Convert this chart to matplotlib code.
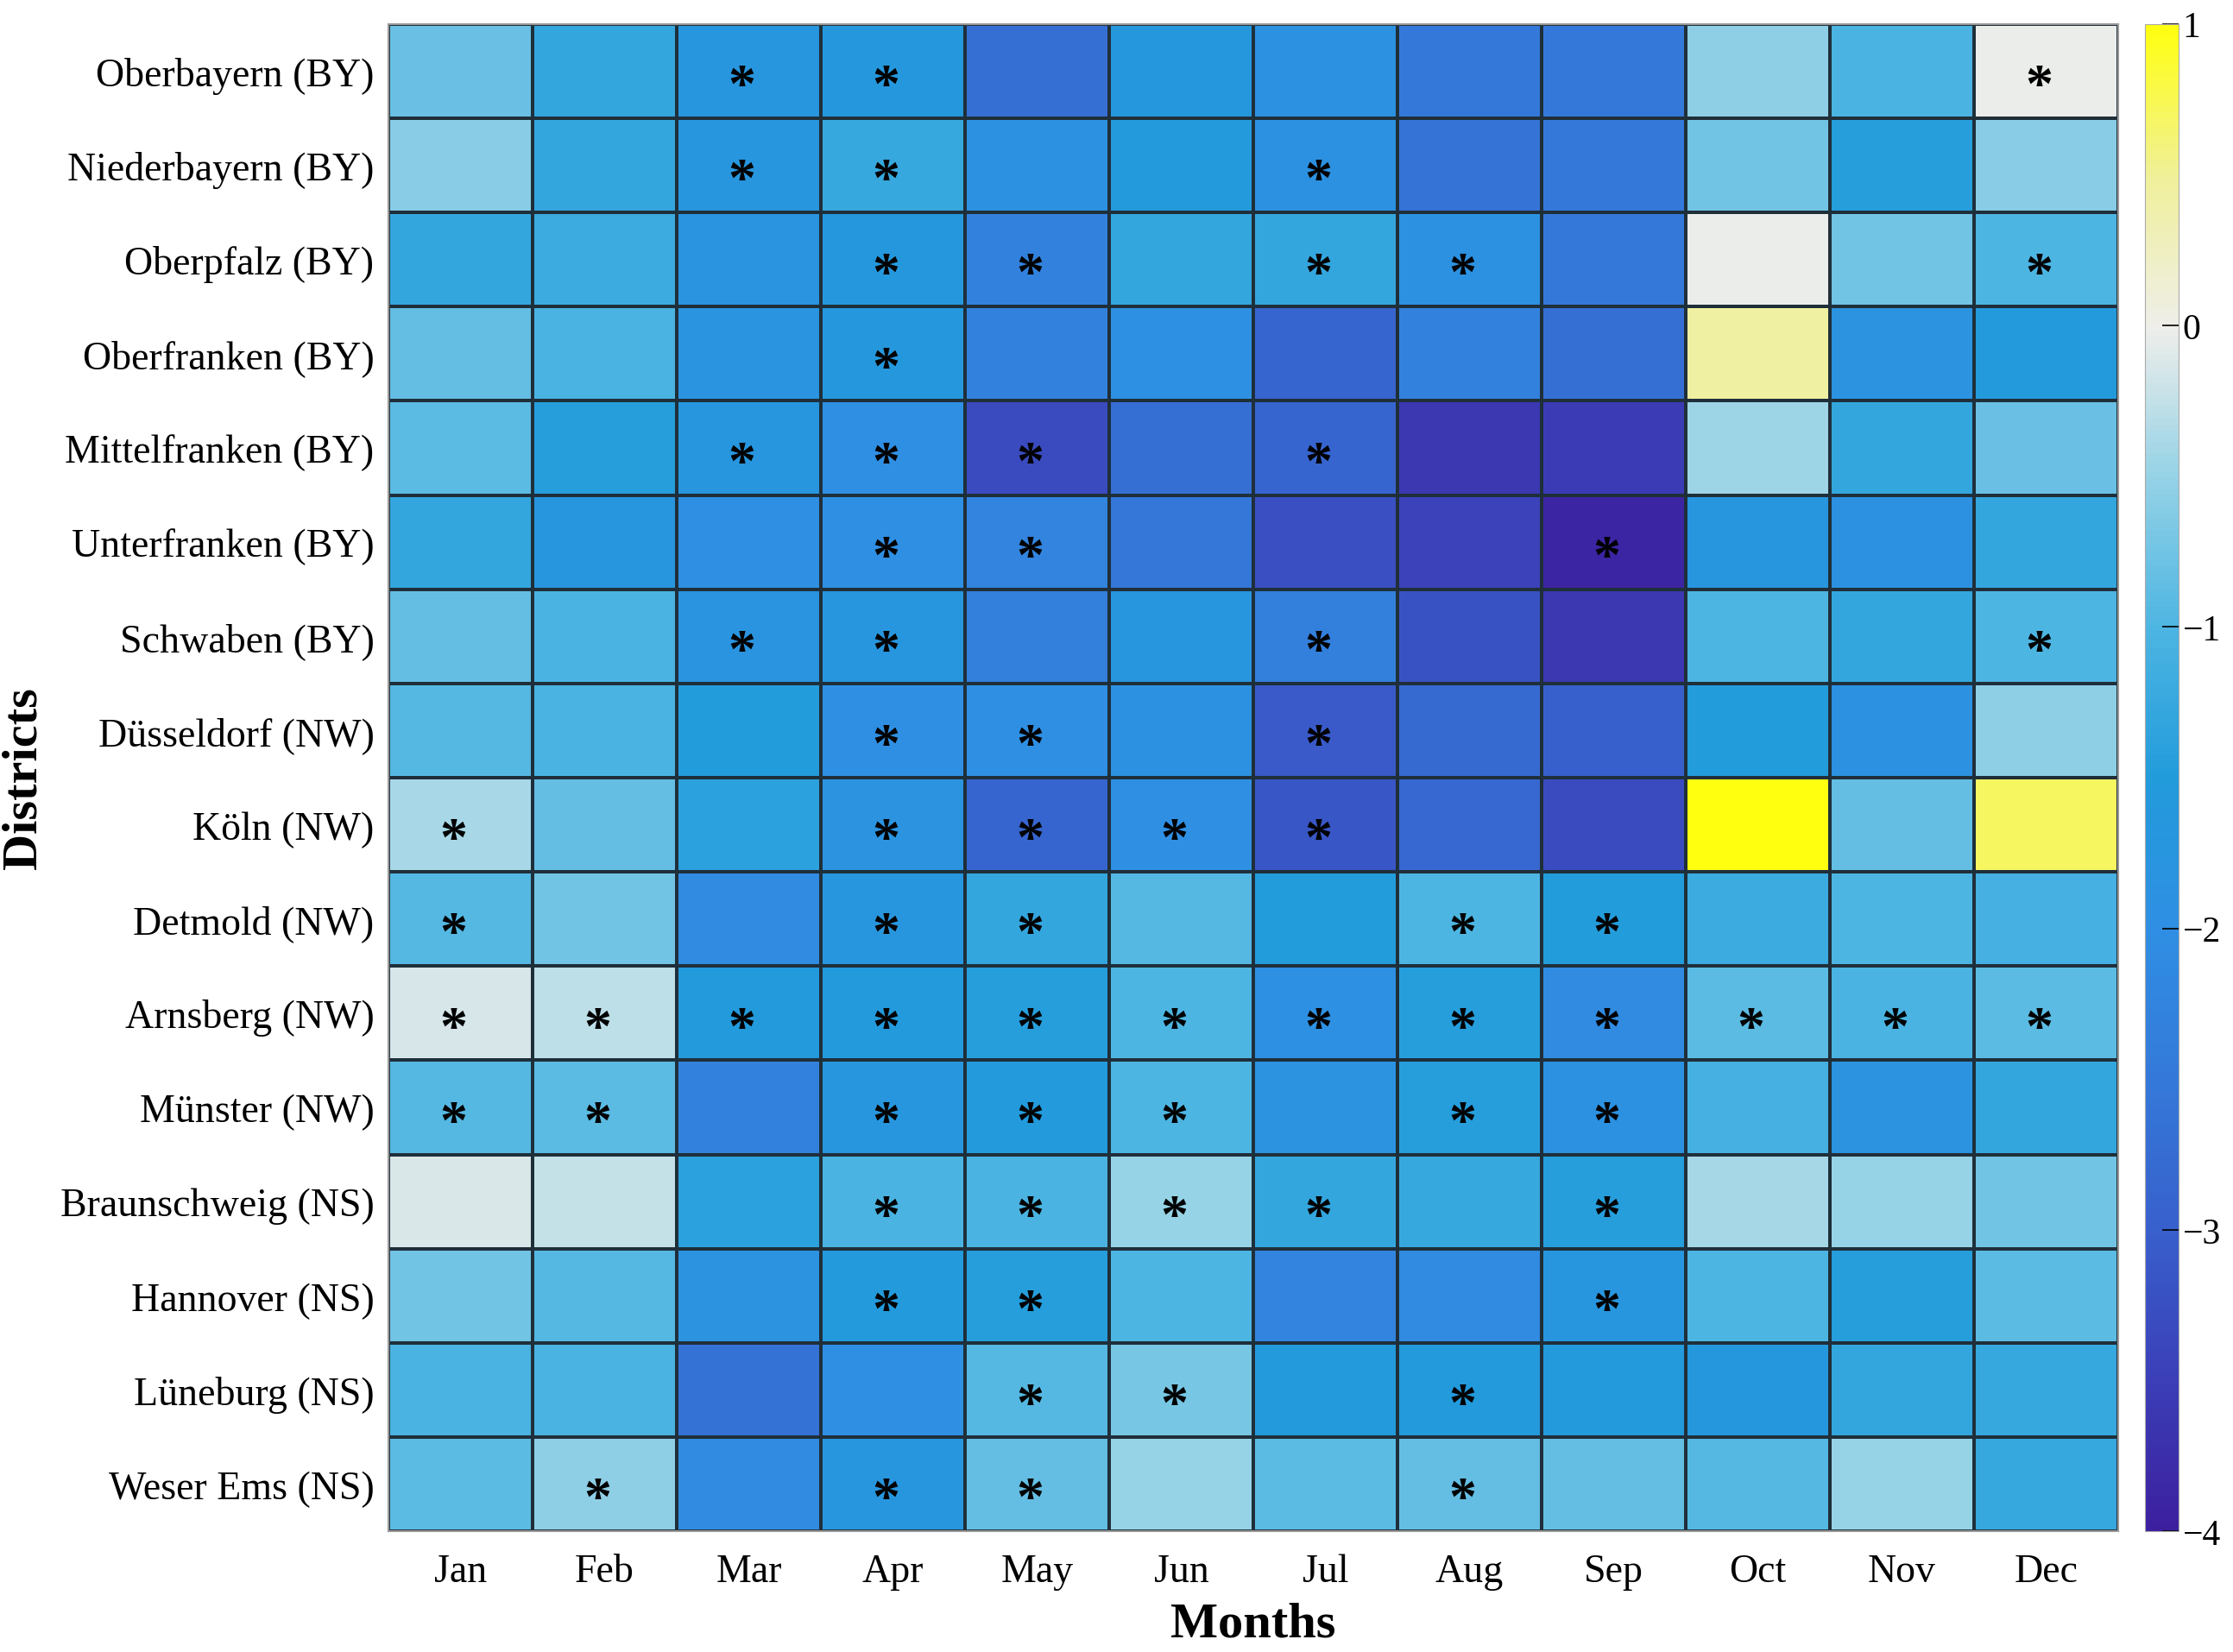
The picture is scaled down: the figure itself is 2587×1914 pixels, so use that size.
import numpy as np
import matplotlib.pyplot as plt
from matplotlib.colors import LinearSegmentedColormap

plt.rcParams['font.family'] = ['Liberation Serif', 'DejaVu Serif']
plt.rcParams['axes.unicode_minus'] = True

# 数据
districts = ['Oberbayern (BY)', 'Niederbayern (BY)', 'Oberpfalz (BY)', 'Oberfranken (BY)',
             'Mittelfranken (BY)', 'Unterfranken (BY)', 'Schwaben (BY)', 'Düsseldorf (NW)',
             'Köln (NW)', 'Detmold (NW)', 'Arnsberg (NW)', 'Münster (NW)',
             'Braunschweig (NS)', 'Hannover (NS)', 'Lüneburg (NS)', 'Weser Ems (NS)']
months = ['Jan', 'Feb', 'Mar', 'Apr', 'May', 'Jun', 'Jul', 'Aug', 'Sep', 'Oct', 'Nov', 'Dec']

values = np.array([
    [-0.80, -1.30, -1.70, -1.60, -2.70, -1.60, -1.90, -2.50, -2.50, -0.55, -1.05, -0.02],
    [-0.60, -1.30, -1.70, -1.25, -1.90, -1.55, -1.90, -2.60, -2.50, -0.75, -1.45, -0.60],
    [-1.30, -1.20, -1.80, -1.60, -2.30, -1.30, -1.30, -1.90, -2.50, -0.02, -0.75, -1.00],
    [-0.85, -1.05, -1.80, -1.60, -2.30, -1.95, -2.90, -2.30, -2.70, 0.45, -1.85, -1.55],
    [-0.90, -1.45, -1.70, -2.00, -3.30, -2.70, -2.90, -3.60, -3.55, -0.45, -1.30, -0.80],
    [-1.30, -1.70, -2.00, -2.00, -2.25, -2.55, -3.25, -3.45, -3.90, -1.75, -1.90, -1.30],
    [-0.85, -1.05, -1.80, -1.70, -2.35, -1.70, -2.35, -3.20, -3.60, -1.00, -1.30, -1.00],
    [-0.95, -1.05, -1.50, -2.00, -2.00, -1.90, -3.10, -2.80, -3.00, -1.50, -1.90, -0.55],
    [-0.40, -0.85, -1.40, -1.85, -2.90, -2.00, -3.15, -2.85, -3.30, 1.00, -0.85, 0.70],
    [-0.95, -0.75, -2.10, -1.70, -1.30, -0.95, -1.50, -1.00, -1.50, -1.20, -1.00, -1.10],
    [-0.15, -0.28, -1.55, -1.55, -1.45, -1.00, -1.95, -1.45, -2.10, -0.90, -1.05, -0.90],
    [-0.95, -0.90, -2.30, -1.70, -1.55, -1.00, -1.85, -1.45, -1.90, -1.10, -1.85, -1.30],
    [-0.12, -0.25, -1.40, -1.05, -1.05, -0.50, -1.30, -1.25, -1.45, -0.42, -0.50, -0.75],
    [-0.75, -0.95, -1.85, -1.55, -1.45, -1.00, -2.25, -2.10, -1.70, -1.00, -1.45, -0.90],
    [-1.05, -1.05, -2.65, -2.00, -0.95, -0.70, -1.55, -1.55, -1.55, -1.60, -1.30, -1.25],
    [-0.90, -0.55, -2.10, -1.70, -0.85, -0.50, -0.90, -0.85, -0.85, -0.95, -0.50, -1.25],
])

# 显著性标记 (1 = *)
signif = np.array([
    [0, 0, 1, 1, 0, 0, 0, 0, 0, 0, 0, 1],
    [0, 0, 1, 1, 0, 0, 1, 0, 0, 0, 0, 0],
    [0, 0, 0, 1, 1, 0, 1, 1, 0, 0, 0, 1],
    [0, 0, 0, 1, 0, 0, 0, 0, 0, 0, 0, 0],
    [0, 0, 1, 1, 1, 0, 1, 0, 0, 0, 0, 0],
    [0, 0, 0, 1, 1, 0, 0, 0, 1, 0, 0, 0],
    [0, 0, 1, 1, 0, 0, 1, 0, 0, 0, 0, 1],
    [0, 0, 0, 1, 1, 0, 1, 0, 0, 0, 0, 0],
    [1, 0, 0, 1, 1, 1, 1, 0, 0, 0, 0, 0],
    [1, 0, 0, 1, 1, 0, 0, 1, 1, 0, 0, 0],
    [1, 1, 1, 1, 1, 1, 1, 1, 1, 1, 1, 1],
    [1, 1, 0, 1, 1, 1, 0, 1, 1, 0, 0, 0],
    [0, 0, 0, 1, 1, 1, 1, 0, 1, 0, 0, 0],
    [0, 0, 0, 1, 1, 0, 0, 0, 1, 0, 0, 0],
    [0, 0, 0, 0, 1, 1, 0, 1, 0, 0, 0, 0],
    [0, 1, 0, 1, 1, 0, 0, 1, 0, 0, 0, 0],
])

# 自定义颜色映射 (-4 ~ 1)
nodes = [(-4.0, '#3c1f9e'), (-3.5, '#3b3fb8'), (-3.0, '#3860cc'), (-2.5, '#3479d9'),
         (-2.0, '#2f8fe3'), (-1.5, '#229bdb'), (-1.0, '#4db5e2'), (-0.5, '#95d2e6'),
         (0.0, '#eeeeea'), (0.5, '#f0f09a'), (1.0, '#ffff10')]
cmap = LinearSegmentedColormap.from_list(
    'custom', [((v + 4) / 5, c) for v, c in nodes])

fig = plt.figure(figsize=(25.87, 19.15), dpi=100)
ax = fig.add_axes([0.174, 0.073, 0.7745, 0.912])
cax = fig.add_axes([0.9605, 0.073, 0.0150, 0.912])

mesh = ax.pcolormesh(np.arange(13), np.arange(17), values, cmap=cmap, vmin=-4, vmax=1,
                     edgecolors='#1f2f3a', linewidth=1.6)
ax.set_xlim(0, 12)
ax.set_ylim(16, 0)

for i in range(len(districts)):
    for j in range(len(months)):
        if signif[i, j]:
            ax.text(j + 0.45, i + 0.68, '*', ha='center', va='center',
                    fontsize=46, fontweight='bold', color='black')

ax.set_xticks(np.arange(12) + 0.5)
ax.set_xticklabels(months, fontsize=33)
ax.set_yticks(np.arange(16) + 0.5)
ax.set_yticklabels(districts, fontsize=33)
ax.tick_params(axis='x', length=0, pad=18)
ax.tick_params(axis='y', length=0, pad=12)
for s in ax.spines.values():
    s.set_color('#999999')
    s.set_linewidth(1.5)

ax.set_xlabel('Months', fontsize=42, fontweight='bold', labelpad=10)
ax.set_ylabel('Districts', fontsize=42, fontweight='bold', labelpad=12)

cb = fig.colorbar(mesh, cax=cax, ticks=[-4, -3, -2, -1, 0, 1])
cb.ax.tick_params(labelsize=30, direction='in', length=14, width=1.2)
cb.outline.set_edgecolor('#aaaaaa')

plt.savefig('out.png', dpi=100)
